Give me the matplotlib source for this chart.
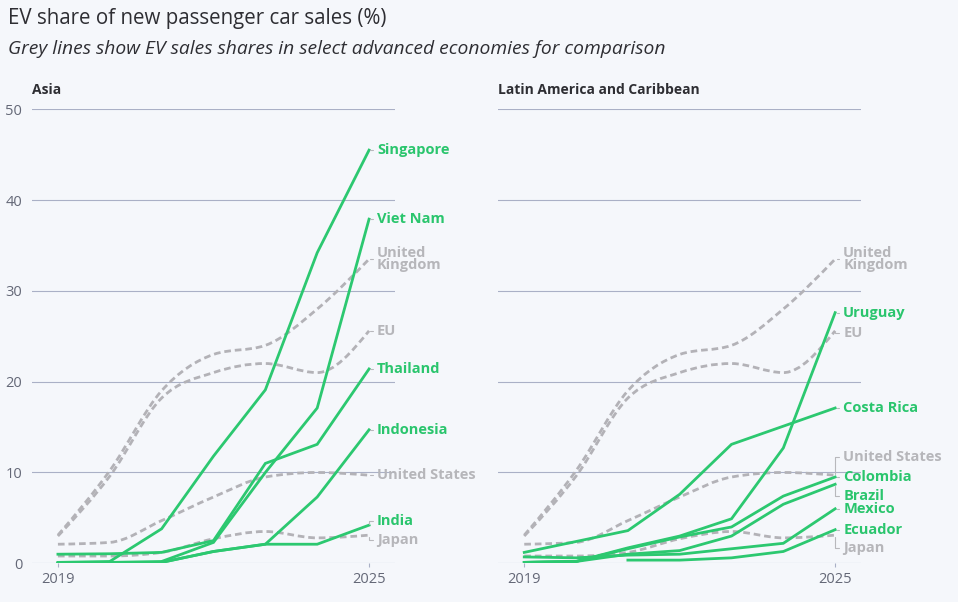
import numpy as np
import matplotlib.pyplot as plt
from matplotlib.path import Path
from matplotlib.patches import PathPatch

plt.rcParams['font.family'] = ['Open Sans', 'DejaVu Sans']

# data (% of new passenger car sales)
years = [2019, 2020, 2021, 2022, 2023, 2024, 2025]

# advanced economies, shown in grey on both panels
uk = [3.1, 10.2, 19.0, 23.0, 24.0, 28.0, 33.5]
eu = [3.0, 9.6, 18.2, 21.0, 22.0, 21.0, 25.6]
us = [2.1, 2.3, 4.7, 7.3, 9.5, 10.0, 9.7]
japan = [0.8, 0.8, 1.2, 2.7, 3.5, 2.8, 3.1]

# Asia
singapore = [0.1, 0.2, 3.8, 11.8, 19.1, 34.2, 45.5]
viet_nam = [0.0, 0.1, 0.2, 2.3, 10.0, 17.1, 37.9]
thailand = [1.0, 1.05, 1.2, 2.5, 11.0, 13.1, 21.4]
indonesia = [0.0, 0.0, 0.1, 1.3, 2.1, 7.3, 14.7]
india = [0.0, 0.0, 0.1, 1.3, 2.1, 2.1, 4.2]

# Latin America and Caribbean
costa_rica = [1.2, 2.4, 3.6, 7.6, 13.1, 15.1, 17.1]
uruguay = [0.1, 0.2, 1.7, 3.0, 4.9, 12.7, 27.6]
colombia = [0.1, 0.2, 1.6, 2.9, 4.0, 7.4, 9.5]
brazil = [0.1, 0.2, 1.0, 1.4, 3.0, 6.5, 8.7]
mexico = [0.7, 0.6, 0.9, 1.0, 1.6, 2.2, 6.0]
ecuador = [np.nan, np.nan, 0.35, 0.35, 0.6, 1.3, 3.7]

BG = '#f5f7fb'
GREEN = '#2cc870'
GREEN_TXT = '#2ac56d'
GREY = '#b3b2b7'
GREY_TXT = '#b6b6ba'
GRID = '#aab0c6'
TICK = '#646877'
DARK = '#2e2e33'


def monotone_path(x, y):
    # d3 curveMonotoneX as cubic bezier segments
    x = np.asarray(x, float)
    y = np.asarray(y, float)
    n = len(x)
    h = np.diff(x)
    s = np.diff(y) / h
    t = np.zeros(n)
    for i in range(1, n - 1):
        p = (s[i - 1] * h[i] + s[i] * h[i - 1]) / (h[i - 1] + h[i])
        t[i] = (np.sign(s[i - 1]) + np.sign(s[i])) * min(abs(s[i - 1]), abs(s[i]), 0.5 * abs(p))
    t[0] = (3 * s[0] - t[1]) / 2
    t[-1] = (3 * s[-1] - t[-2]) / 2
    verts = [(x[0], y[0])]
    codes = [Path.MOVETO]
    for i in range(n - 1):
        d = h[i] / 3
        verts += [(x[i] + d, y[i] + d * t[i]), (x[i + 1] - d, y[i + 1] - d * t[i + 1]), (x[i + 1], y[i + 1])]
        codes += [Path.CURVE4] * 3
    return Path(verts, codes)


def label(ax, vals, text, color, dy=0):
    ax.annotate(text, xy=(years[-1], vals[-1]), xytext=(8, dy), textcoords='offset pixels',
                ha='left', va='center', fontsize=10.5, fontweight='bold', color=color,
                linespacing=0.85,
                arrowprops=dict(arrowstyle='-', color='#b8b8bc', lw=0.8, shrinkA=1, shrinkB=1,
                                relpos=(0, 0.5), connectionstyle='angle,angleA=0,angleB=90,rad=0'))


def panel(ax, title, greens, grey_dy):
    ax.set_facecolor(BG)
    greys = [(uk, 'United\nKingdom'), (eu, 'EU'), (us, 'United States'), (japan, 'Japan')]
    for vals, name in greys:
        ax.add_patch(PathPatch(monotone_path(years, vals), fill=False, edgecolor=GREY, lw=2.0,
                               linestyle=(0, (2.4, 1.4)), zorder=2))
        label(ax, vals, name, GREY_TXT, grey_dy.get(name, 0))
    for vals, name, dy in greens:
        ax.plot(years, vals, color=GREEN, lw=2.0, zorder=3, solid_joinstyle='miter')
        label(ax, vals, name, GREEN_TXT, dy)

    ax.set_xlim(2018.5, 2025.5)
    ax.set_ylim(0, 50)
    ax.set_yticks([0, 10, 20, 30, 40, 50])
    ax.grid(axis='y', color=GRID, lw=0.8)
    ax.set_axisbelow(True)
    for sp in ax.spines.values():
        sp.set_visible(False)
    ax.set_xticks([2019, 2025])
    ax.tick_params(axis='x', length=3, color=GRID, labelcolor=TICK, labelsize=10.5, pad=3)
    ax.tick_params(axis='y', length=0, labelcolor=TICK, labelsize=10.5, pad=7)
    ax.text(0, 1.043, title, transform=ax.transAxes, fontsize=10, fontweight='bold', color=DARK,
            ha='left', va='center')


fig = plt.figure(figsize=(9.58, 6.02), dpi=100)
fig.patch.set_facecolor(BG)

ax1 = fig.add_axes([0.0334, 0.0643, 0.3789, 0.7542])
ax2 = fig.add_axes([0.5202, 0.0643, 0.3786, 0.7542])

panel(ax1, 'Asia',
      [(singapore, 'Singapore', 0), (viet_nam, 'Viet Nam', 0), (thailand, 'Thailand', 0),
       (indonesia, 'Indonesia', 0), (india, 'India', 4)],
      {'Japan': -5})
panel(ax2, 'Latin America and Caribbean',
      [(costa_rica, 'Costa Rica', 0), (uruguay, 'Uruguay', 0), (colombia, 'Colombia', 0),
       (brazil, 'Brazil', -12), (mexico, 'Mexico', 0), (ecuador, 'Ecuador', 0)],
      {'EU': -2, 'United States': 18, 'Japan': -13})
ax2.set_yticklabels([])

fig.text(0.008, 0.969, 'EV share of new passenger car sales (%)', fontsize=14.8, color=DARK,
         ha='left', va='center')
fig.text(0.008, 0.919, 'Grey lines show EV sales shares in select advanced economies for comparison',
         fontsize=13.9, style='italic', color=DARK, ha='left', va='center')

fig.savefig('out.png', dpi=100, facecolor=BG)
